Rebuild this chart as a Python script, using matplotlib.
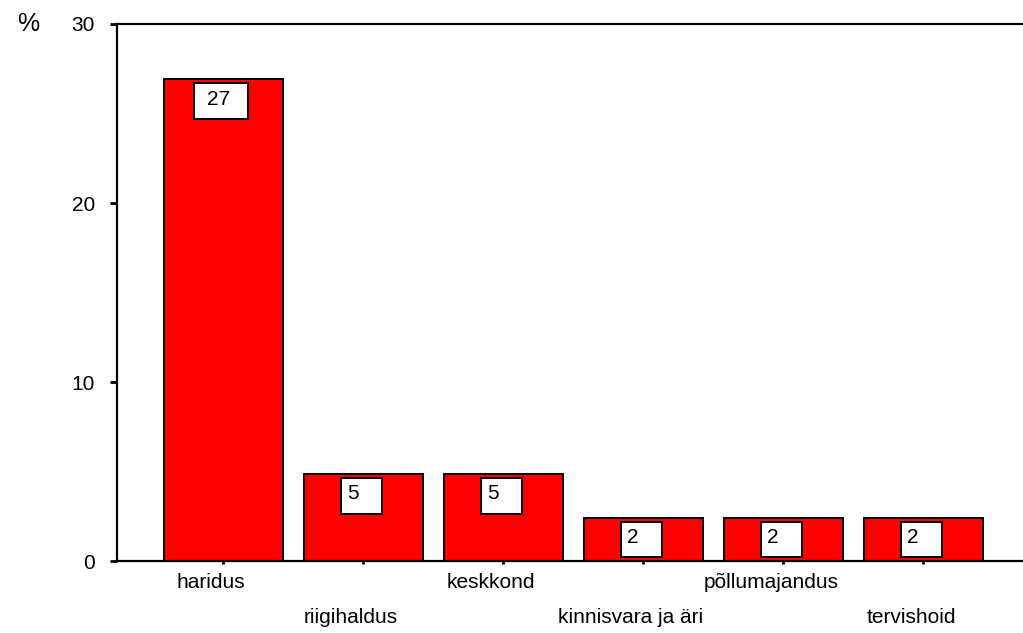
import matplotlib.pyplot as plt
from matplotlib.patches import Rectangle
from matplotlib.transforms import ScaledTranslation

# andmed
categories = ['haridus', 'riigihaldus', 'keskkond', 'kinnisvara ja äri', 'põllumajandus', 'tervishoid']
values = [26.9, 4.85, 4.85, 2.4, 2.4, 2.4]
bar_labels = ['27', '5', '5', '2', '2', '2']
yticks = [0, 10, 20, 30]

plt.rcParams['font.family'] = ['Liberation Sans', 'DejaVu Sans']
fs = 15

fig = plt.figure(figsize=(10.23, 6.33), dpi=100)
ax = fig.add_axes([0.1144, 0.1137, 0.8856, 0.8484])

x = list(range(len(categories)))
ax.bar(x, values, width=0.85, color='#ff0000', edgecolor='black', linewidth=1.4, zorder=2)

# valged sildikastid tulpade sees
for xi, v, lab in zip(x, values, bar_labels):
    n = len(lab)
    w = 0.29 + 0.09 * (n - 1)
    left = xi - 0.155 - 0.05 * (n - 1)
    top = v - 0.2
    h = 2.0
    ax.add_patch(Rectangle((left, top - h), w, h, facecolor='white', edgecolor='black',
                           linewidth=1.4, zorder=3))
    ax.text(xi - 0.115, top - h / 2 + 0.1, lab, ha='left', va='center', fontsize=fs, zorder=4)

ax.set_xlim(-0.757, 5.714)
ax.set_ylim(0, 30)
ax.set_yticks(yticks)
ax.set_xticks(x)
ax.set_xticklabels(categories)

ax.spines['right'].set_visible(False)
for s in ['left', 'top', 'bottom']:
    ax.spines[s].set_linewidth(1.6)

ax.tick_params(axis='y', length=5, width=2, pad=11, labelsize=fs)
ax.tick_params(axis='x', length=2.5, width=2, labelsize=fs)

# sildid vaheldumisi kahes reas, veidi vasakule nihutatud
shift = ScaledTranslation(-0.12, 0, fig.dpi_scale_trans)
for i, t in enumerate(ax.xaxis.get_major_ticks()):
    t.set_pad(6 if i % 2 == 0 else 31)
for lbl in ax.get_xticklabels():
    lbl.set_transform(lbl.get_transform() + shift)

fig.text(0.028, 0.962, '%', fontsize=18, ha='center', va='center')

fig.savefig('out.png', dpi=100)
